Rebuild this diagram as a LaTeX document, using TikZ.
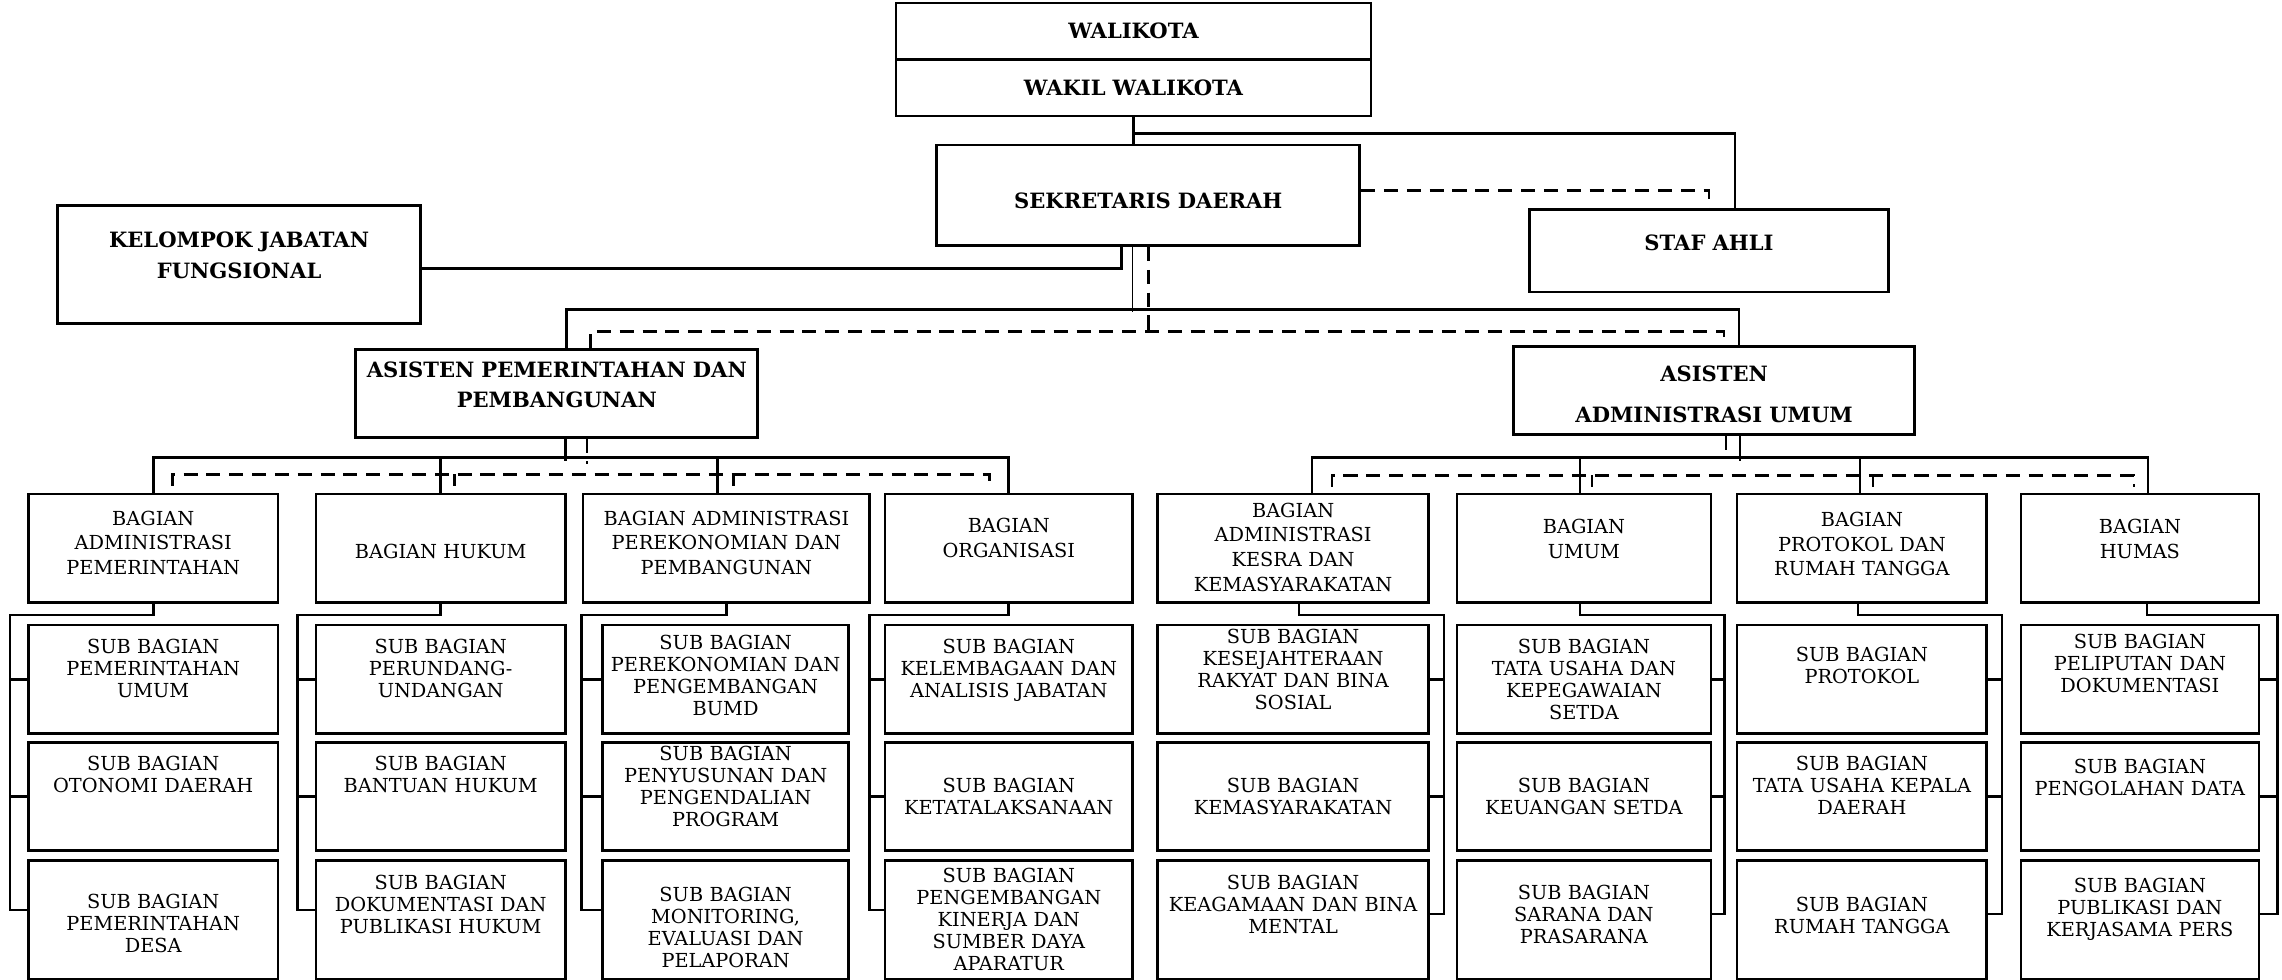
\documentclass[tikz,border=0pt]{standalone}
\usepackage{fontspec}
\setmainfont{DejaVu Serif}
\usetikzlibrary{shapes.multipart}
\newdimen\pxu \pxu=0.02cm

\begin{document}
\begin{tikzpicture}[x=0.02cm,y=-0.02cm,line width=1.5pt]
\tikzset{box/.style 2 args = {draw, line width=1.5pt, align=center, inner sep=0pt, text height=#2*\pxu, text depth=(#1-#2)*\pxu},
  head/.style 2 args = {box={#1}{#2}, font=\bfseries\fontsize{12}{17.5}\selectfont},
  bag/.style = {box={108.5}{#1}, font=\fontsize{11}{14}\selectfont},
  sub/.style 2 args = {box={#1}{#2}, font=\fontsize{11}{12.5}\selectfont},
  thinline/.style = {line width=0.8pt},
  dashline/.style = {dash pattern=on 8pt off 5pt}}
\useasboundingbox (0,0) rectangle (2282,980);

%top
\node[draw, rectangle split, rectangle split parts=2, text width=475*\pxu, align=center, inner xsep=0pt, inner ysep=10.8pt, font=\bfseries\fontsize{12}{14}\selectfont] (walikota) at (1133.5,59.5) {WALIKOTA\nodepart{two}WAKIL WALIKOTA};
\node[head={100.7}{64}, text width=423*\pxu] (sekda) at (1148.3,195.3) {SEKRETARIS DAERAH};
\node[head={117.6}{42}, text width=363*\pxu] (kjf) at (239.1,264.5) {KELOMPOK JABATAN\\FUNGSIONAL};
\node[head={82.7}{41.1}, text width=359*\pxu] (staf) at (1709,250.6) {STAF AHLI};
\node[head={88}{27.7}, text width=402*\pxu] (ap) at (556.8,393.3) {ASISTEN PEMERINTAHAN DAN\\PEMBANGUNAN};
\node[head={87.6}{34.3}, text width=401*\pxu] (aa) at (1714.1,390.5) {ASISTEN\\[6pt]ADMINISTRASI UMUM};

%bagian
\node[bag=31, text width=249.6*\pxu] (b1) at (153.2,548.3) {BAGIAN\\ADMINISTRASI\\PEMERINTAHAN};
\node[bag=64.6, text width=249.6*\pxu] (b2) at (440.7,548.3) {BAGIAN HUKUM};
\node[bag=31.2, text width=286.7*\pxu] (b3) at (726.4,548.3) {BAGIAN ADMINISTRASI\\PEREKONOMIAN DAN\\PEMBANGUNAN};
\node[bag=38.7, text width=247.5*\pxu] (b4) at (1008.8,548.3) {BAGIAN\\ORGANISASI};
\node[bag=23.3, text width=270.8*\pxu] (r1) at (1293.1,548.3) {BAGIAN\\ADMINISTRASI\\KESRA DAN\\KEMASYARAKATAN};
\node[bag=39.5, text width=254*\pxu] (r2) at (1583.9,548.3) {BAGIAN\\UMUM};
\node[bag=32.7, text width=249.7*\pxu] (r3) at (1861.9,548.3) {BAGIAN\\PROTOKOL DAN\\RUMAH TANGGA};
\node[bag=39.4, text width=238*\pxu] (r4) at (2139.9,548.3) {BAGIAN\\HUMAS};

%sub bagian
\node[sub={108.4}{28.3}, text width=249.6*\pxu] (s11) at (153.2,679.2) {SUB BAGIAN\\PEMERINTAHAN\\UMUM};
\node[sub={108}{28}, text width=249.6*\pxu] (s12) at (153.2,796.3) {SUB BAGIAN\\OTONOMI DAERAH};
\node[sub={118.2}{47.3}, text width=249.6*\pxu] (s13) at (153.2,919.9) {SUB BAGIAN\\PEMERINTAHAN\\DESA};
\node[sub={108.4}{28.3}, text width=249.6*\pxu] (s21) at (440.7,679.2) {SUB BAGIAN\\PERUNDANG-\\UNDANGAN};
\node[sub={108}{28}, text width=249.6*\pxu] (s22) at (440.7,796.3) {SUB BAGIAN\\BANTUAN HUKUM};
\node[sub={118.2}{28.4}, text width=249.6*\pxu] (s23) at (440.7,919.9) {SUB BAGIAN\\DOKUMENTASI DAN\\PUBLIKASI HUKUM};
\node[sub={108.4}{24.9}, text width=246*\pxu] (s31) at (725.6,679.2) {SUB BAGIAN\\PEREKONOMIAN DAN\\PENGEMBANGAN\\BUMD};
\node[sub={108}{18.4}, text width=246*\pxu] (s32) at (725.6,796.3) {SUB BAGIAN\\PENYUSUNAN DAN\\PENGENDALIAN\\PROGRAM};
\node[sub={118.2}{40.4}, text width=246*\pxu] (s33) at (725.6,919.9) {SUB BAGIAN\\MONITORING,\\EVALUASI DAN\\PELAPORAN};
\node[sub={108.4}{28.3}, text width=247.5*\pxu] (s41) at (1008.8,679.2) {SUB BAGIAN\\KELEMBAGAAN DAN\\ANALISIS JABATAN};
\node[sub={108}{50.4}, text width=247.5*\pxu] (s42) at (1008.8,796.3) {SUB BAGIAN\\KETATALAKSANAAN};
\node[sub={118.2}{21.5}, text width=247.5*\pxu] (s43) at (1008.8,919.9) {SUB BAGIAN\\PENGEMBANGAN\\KINERJA DAN\\SUMBER DAYA\\APARATUR};

\node[sub={108.4}{18.7}, text width=270.8*\pxu] (t11) at (1293.1,679.2) {SUB BAGIAN\\KESEJAHTERAAN\\RAKYAT DAN BINA\\SOSIAL};
\node[sub={108}{49.8}, text width=270.8*\pxu] (t12) at (1293.1,796.3) {SUB BAGIAN\\KEMASYARAKATAN};
\node[sub={118.2}{28.4}, text width=270.8*\pxu] (t13) at (1293.1,919.9) {SUB BAGIAN\\KEAGAMAAN DAN BINA\\MENTAL};
\node[sub={108.4}{28.3}, text width=254*\pxu] (t21) at (1583.9,679.2) {SUB BAGIAN\\TATA USAHA DAN\\KEPEGAWAIAN\\SETDA};
\node[sub={108}{50.4}, text width=254*\pxu] (t22) at (1583.9,796.3) {SUB BAGIAN\\KEUANGAN SETDA};
\node[sub={118.2}{38.7}, text width=254*\pxu] (t23) at (1583.9,919.9) {SUB BAGIAN\\SARANA DAN\\PRASARANA};
\node[sub={108.4}{36.9}, text width=249.7*\pxu] (t31) at (1861.9,679.2) {SUB BAGIAN\\PROTOKOL};
\node[sub={108}{28}, text width=249.7*\pxu] (t32) at (1861.9,796.3) {SUB BAGIAN\\TATA USAHA KEPALA\\DAERAH};
\node[sub={118.2}{50.8}, text width=249.7*\pxu] (t33) at (1861.9,919.9) {SUB BAGIAN\\RUMAH TANGGA};
\node[sub={108.4}{23.1}, text width=238*\pxu] (t41) at (2139.9,679.2) {SUB BAGIAN\\PELIPUTAN DAN\\DOKUMENTASI};
\node[sub={108}{30.8}, text width=238*\pxu] (t42) at (2139.9,796.3) {SUB BAGIAN\\PENGOLAHAN DATA};
\node[sub={118.2}{31.9}, text width=238*\pxu] (t43) at (2139.9,919.9) {SUB BAGIAN\\PUBLIKASI DAN\\KERJASAMA PERS};

%top lines
\draw (walikota.south) -- (walikota.south |- sekda.north);
\draw (walikota.south) ++(0,16) -| ([xshift=26\pxu]staf.north);
\draw[dashline] ([yshift=5\pxu]sekda.east) -| (staf.north);
\draw ([yshift=-4\pxu]kjf.east) -| ([xshift=-27\pxu]sekda.south);
\draw[thinline] ([xshift=-16\pxu]sekda.south) -- ++(0,64.8);
\draw ([xshift=10\pxu]ap.north) -- ++(0,-38.8) -| ([xshift=25\pxu]aa.north);
\draw[dashline] (sekda.south) -- ++(0,90);
\draw[dashline] ([xshift=34\pxu]ap.north) -- ++(0,-16.8) -| ([xshift=10\pxu]aa.north);

%asisten to bagian
\draw ([xshift=9\pxu]ap.south) -- ++(0,22);
\draw[thinline, dashline] ([xshift=30\pxu]ap.south) -- ++(0,25);
\draw (b1.north) -- ++(0,-35) -| (b4.north);
\draw (b2.north) -- ++(0,-35);
\draw ([xshift=-9\pxu]b3.north) -- ++(0,-35);
\draw[dashline] ([shift={(19,-7)}]b1.north) -- ++(0,-11.5) -| ([shift={(-19,-7)}]b4.north);
\draw[dashline] ([shift={(14,-7)}]b2.north) -- ++(0,-11.5);
\draw[dashline] ([shift={(7,-7)}]b3.north) -- ++(0,-11.5);

\draw[thinline] ([xshift=26\pxu]aa.south) -- ++(0,25);
\draw[dashline] ([xshift=12\pxu]aa.south) -- ++(0,14);
\draw ([xshift=19\pxu]r1.north) -- ++(0,-35) -| ([xshift=8\pxu]r4.north);
\draw ([xshift=-4\pxu]r2.north) -- ++(0,-35);
\draw ([xshift=-2\pxu]r3.north) -- ++(0,-35);
\draw[dashline] ([shift={(39,-6)}]r1.north) -- ++(0,-11.5) -| ([shift={(-6,-6)}]r4.north);
\draw[dashline] ([shift={(8,-6)}]r2.north) -- ++(0,-11.5);
\draw[dashline] ([shift={(11,-6)}]r3.north) -- ++(0,-11.5);

%bagian to sub bagian
\foreach \c/\d in {1/17, 2/17, 3/20, 4/14}{
  \draw (b\c.south) -- ++(0,11) -| ([shift={(-\d,-10)}]s\c3.west) -- ([yshift=10\pxu]s\c3.west);
  \draw (s\c1.west) -- ++(-\d,0);
  \draw (s\c2.west) -- ++(-\d,0);
}
\foreach \c/\d/\e in {1/14/6, 2/12/-4, 3/14/-4, 4/17/7}{
  \draw ([xshift=\e\pxu]r\c.south) -- ++(0,11) -| ([shift={(\d,-6)}]t\c3.east) -- ([yshift=6\pxu]t\c3.east);
  \draw (t\c1.east) -- ++(\d,0);
  \draw (t\c2.east) -- ++(\d,0);
}
\end{tikzpicture}
\end{document}
